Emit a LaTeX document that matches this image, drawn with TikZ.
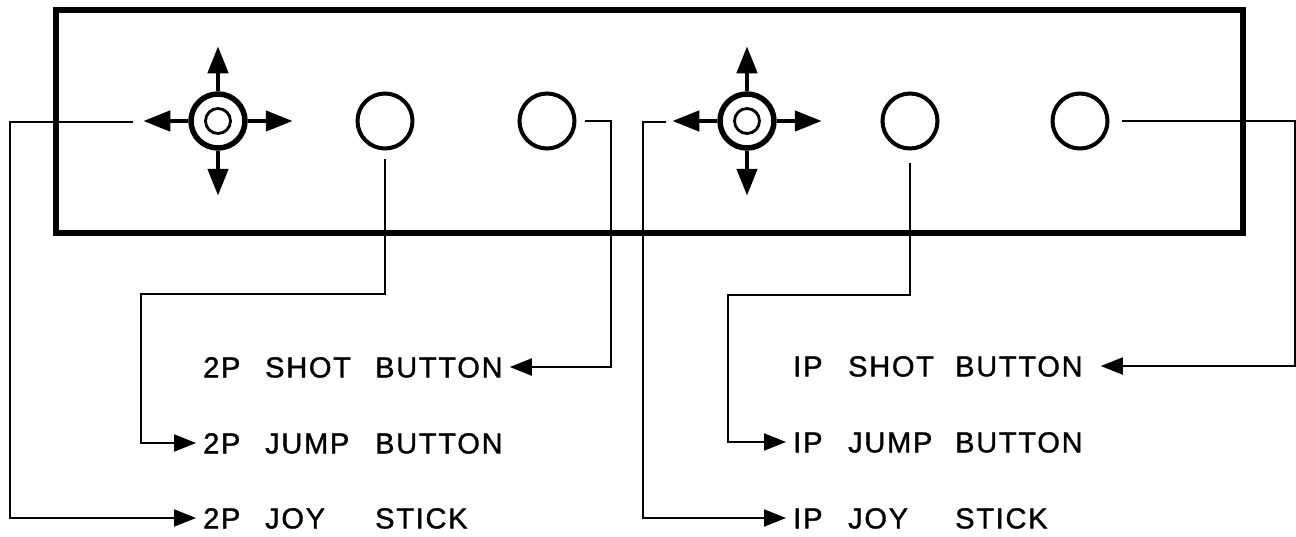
\documentclass[tikz,border=0pt]{standalone}
\usepackage{fontspec}
\newfontfamily\lbl[LetterSpace=6,FakeBold=1.2]{Liberation Sans}
\usetikzlibrary{arrows.meta}
\begin{document}
\begin{tikzpicture}[x=1pt,y=-1pt,
  frame/.style={draw,line width=6pt,inner sep=0pt},
  btn/.style={circle,draw,line width=4pt,minimum size=55pt,inner sep=0pt},
  jring/.style={circle,draw,line width=5.5pt,minimum size=54pt,inner sep=0pt},
  jcore/.style={circle,draw,line width=2.8pt,minimum size=25pt,inner sep=0pt},
  jarrow/.style={line width=4.5pt,-{Triangle[length=27pt,width=20pt]}},
  conn/.style={line width=2pt,-{Triangle[length=22pt,width=17pt]}},
  lab/.style={font=\lbl\fontsize{29}{29}\selectfont,inner xsep=7pt,inner ysep=0pt,
    text height=20.8pt,text depth=0pt},
]
\useasboundingbox (0,0) rectangle (1296,536);

% panel
\node[frame,minimum width=1186.5pt,minimum height=223.5pt] (panel) at (649.25,121.25) {};

% left joystick
\node[jring] (j1) at (218,121) {};
\node[jcore] (j1c) at (j1) {};
\draw[jarrow] (j1.north) -- ++(0,-45);
\draw[jarrow] (j1.south) -- ++(0,45);
\draw[jarrow] (j1.west) -- ++(-45,0);
\draw[jarrow] (j1.east) -- ++(45,0);

% right joystick
\node[jring] (j2) at (747,121) {};
\node[jcore] (j2c) at (j2) {};
\draw[jarrow] (j2.north) -- ++(0,-45);
\draw[jarrow] (j2.south) -- ++(0,45);
\draw[jarrow] (j2.west) -- ++(-45,0);
\draw[jarrow] (j2.east) -- ++(45,0);

% buttons
\node[btn,outer sep=10pt] (b1) at (385,121) {};
\node[btn,outer sep=10pt] (b2) at (547,121) {};
\node[btn,outer sep=14pt] (b3) at (910,121) {};
\node[btn,outer sep=14pt] (b4) at (1080,121) {};

% labels
\node[lab,anchor=west] (t2shot) at (196,367) {\makebox[62pt][l]{2P}\makebox[110pt][l]{SHOT}BUTTON};
\node[lab,anchor=west] (t2jump) at (196,443) {\makebox[62pt][l]{2P}\makebox[110pt][l]{JUMP}BUTTON};
\node[lab,anchor=west] (t2joy)  at (196,518) {\makebox[62pt][l]{2P}\makebox[110pt][l]{JOY}STICK};
\node[lab,anchor=west] (t1shot) at (786,366) {\makebox[55pt][l]{I\kern2pt P}\makebox[107pt][l]{SHOT}BUTTON};
\node[lab,anchor=west] (t1jump) at (786,442) {\makebox[55pt][l]{I\kern2pt P}\makebox[107pt][l]{JUMP}BUTTON};
\node[lab,anchor=west] (t1joy)  at (786,518) {\makebox[55pt][l]{I\kern2pt P}\makebox[107pt][l]{JOY}STICK};

% connector coordinates
\coordinate (j1p) at (133,122);
\coordinate (j2p) at (666,122);
\coordinate (cL) at (9.5,122);
\coordinate (c1) at (141,294);
\coordinate (c2) at (611,121);
\coordinate (c3) at (643,122);
\coordinate (c4) at (728,295);
\coordinate (c5) at (1294.5,121);

% connectors
\draw[conn] (j1p) -- (cL) |- (t2joy.west);
\draw[conn] (b1.south) |- (c1) |- (t2jump.west);
\draw[conn] (b2.east) -- (c2) |- (t2shot.east);
\draw[conn] (j2p) -- (c3) |- (t1joy.west);
\draw[conn] (b3.south) |- (c4) |- (t1jump.west);
\draw[conn,shorten >=11pt] (b4.east) -- (c5) |- (t1shot.east);
\end{tikzpicture}
\end{document}
